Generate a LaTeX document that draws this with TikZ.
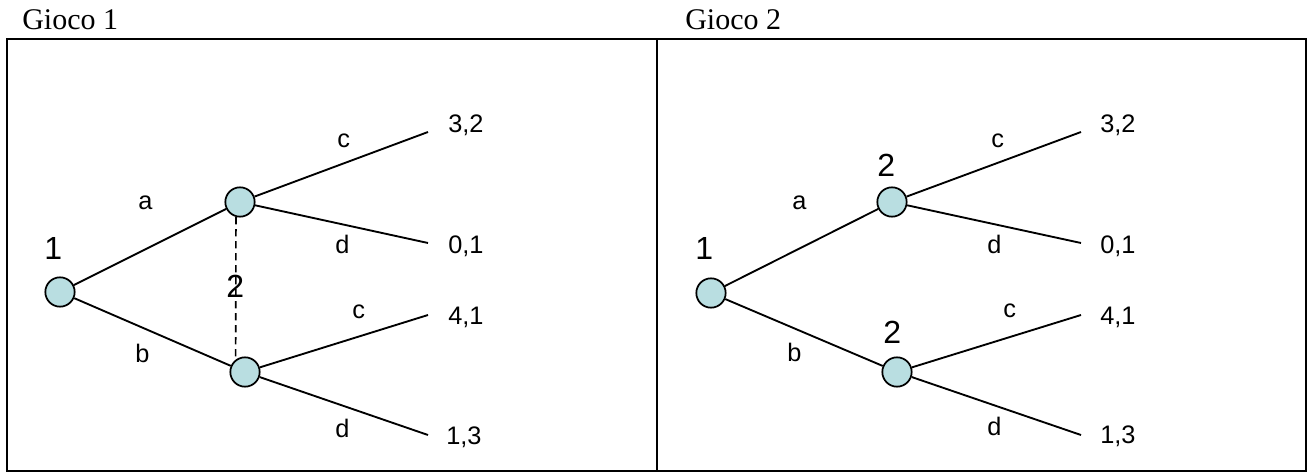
\documentclass[tikz,border=0pt]{standalone}
\usepackage{fontspec}
\setmainfont{Liberation Serif}
\setsansfont{Liberation Sans}
\definecolor{nodefill}{RGB}{185,222,225}
\begin{document}
\begin{tikzpicture}[x=0.75pt,y=-0.75pt,
  frame/.style={line width=1.6pt},
  dnode/.style={circle,draw,line width=1.3pt,fill=nodefill,inner sep=0pt,minimum size=22pt},
  branch/.style={line width=1.4pt},
  infoset/.style={line width=1.2pt,dash pattern=on 5.5pt off 3.5pt},
  heading/.style={anchor=base west,inner sep=0pt,font=\fontsize{22.5}{26}\selectfont\rmfamily},
  lab/.style={anchor=base west,inner sep=0pt,font=\fontsize{19}{22}\selectfont\sffamily},
  player/.style={anchor=base west,inner sep=0pt,font=\fontsize{24}{28}\selectfont\sffamily}]
\useasboundingbox (0,0) rectangle (1311,474);
% headings
\node[heading] (h1) at (22,30) {Gioco 1};
\node[heading] (h2) at (685,30) {Gioco 2};
% frame
\draw[frame] (7,39) rectangle (1306,471);
\draw[frame] (657,39) -- (657,471);

% ---------- Game 1 ----------
\node[dnode] (g1r) at (60,292) {};
\node[dnode] (g1u) at (240,202) {};
\node[dnode] (g1l) at (245,372) {};
\coordinate (g1e1) at (428,132);
\coordinate (g1e2) at (428,243);
\coordinate (g1e3) at (428,315);
\coordinate (g1e4) at (428,435);
\draw[branch] (g1r) -- (g1u);
\draw[branch] (g1r) -- (g1l);
\draw[branch] (g1u) -- (g1e1);
\draw[branch] (g1u) -- (g1e2);
\draw[branch] (g1l) -- (g1e3);
\draw[branch] (g1l) -- (g1e4);
\draw[infoset] (g1u.255) -- (g1l.127);
\node[player] (g1p1) at (44,260) {1};
\node[player] (g1p2) at (226,297) {2};
\node[lab] (g1a) at (138,210) {a};
\node[lab] (g1b) at (135,362) {b};
\node[lab] (g1c1) at (337,148) {c};
\node[lab] (g1d1) at (335,253) {d};
\node[lab] (g1c2) at (352,318) {c};
\node[lab] (g1d2) at (335,437) {d};
\node[lab] (g1o1) at (448,133) {3,2};
\node[lab] (g1o2) at (448,253) {0,1};
\node[lab] (g1o3) at (448,325) {4,1};
\node[lab] (g1o4) at (446,444) {1,3};

% ---------- Game 2 ----------
\node[dnode] (g2r) at (711,293) {};
\node[dnode] (g2u) at (892,202) {};
\node[dnode] (g2l) at (897,372) {};
\coordinate (g2e1) at (1081,132);
\coordinate (g2e2) at (1081,243);
\coordinate (g2e3) at (1081,315);
\coordinate (g2e4) at (1081,435);
\draw[branch] (g2r) -- (g2u);
\draw[branch] (g2r) -- (g2l);
\draw[branch] (g2u) -- (g2e1);
\draw[branch] (g2u) -- (g2e2);
\draw[branch] (g2l) -- (g2e3);
\draw[branch] (g2l) -- (g2e4);
\node[player] (g2p1) at (695,259) {1};
\node[player] (g2p2) at (877,177) {2};
\node[player] (g2p3) at (883,343) {2};
\node[lab] (g2a) at (792,210) {a};
\node[lab] (g2b) at (787,361) {b};
\node[lab] (g2c1) at (991,148) {c};
\node[lab] (g2d1) at (987,253) {d};
\node[lab] (g2c2) at (1003,317) {c};
\node[lab] (g2d2) at (987,435) {d};
\node[lab] (g2o1) at (1100,133) {3,2};
\node[lab] (g2o2) at (1100,253) {0,1};
\node[lab] (g2o3) at (1100,325) {4,1};
\node[lab] (g2o4) at (1100,443) {1,3};
\end{tikzpicture}
\end{document}
